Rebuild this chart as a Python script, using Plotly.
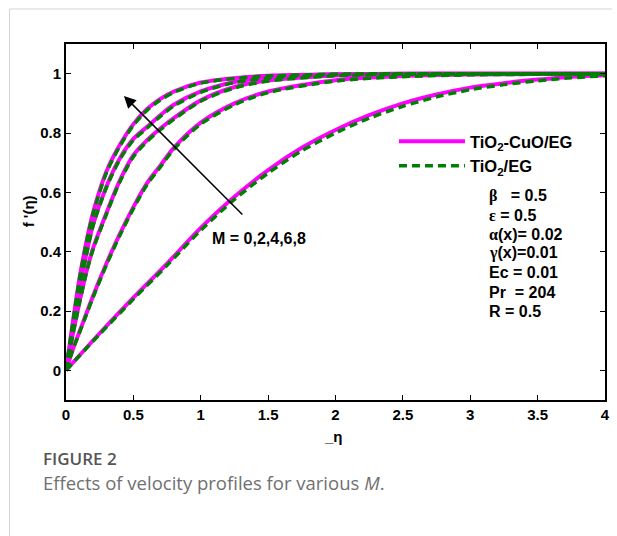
import plotly.graph_objects as go

# eta grid for curves M = 0,2,4,6,8
eta_m0 = [0, 0.25, 0.5, 0.75, 1.0, 1.25, 1.5, 1.75, 2.0, 2.25, 2.5, 2.75, 3.0, 3.25, 3.5, 3.75, 4.0]
hyb_m0 = [0, 0.125, 0.245, 0.36, 0.48, 0.585, 0.675, 0.75, 0.81, 0.86, 0.90, 0.93, 0.953, 0.968, 0.98, 0.99, 0.995]
mono_m0 = [0, 0.122, 0.24, 0.354, 0.472, 0.576, 0.665, 0.74, 0.80, 0.85, 0.89, 0.922, 0.946, 0.963, 0.976, 0.986, 0.993]

eta_hi = [0, 0.05, 0.1, 0.15, 0.2, 0.3, 0.4, 0.5, 0.6, 0.7, 0.8, 1.0, 1.25, 1.5, 2.0, 2.5, 3.0, 3.5, 4.0]
hyb_m2 = [0, 0.07, 0.13, 0.19, 0.25, 0.36, 0.46, 0.55, 0.63, 0.69, 0.75, 0.835, 0.90, 0.94, 0.978, 0.992, 0.997, 0.999, 1.0]
hyb_m4 = [0, 0.12, 0.23, 0.33, 0.41, 0.53, 0.64, 0.725, 0.775, 0.815, 0.85, 0.91, 0.955, 0.977, 0.994, 0.999, 1.0, 1.0, 1.0]
hyb_m6 = [0, 0.14, 0.28, 0.39, 0.49, 0.62, 0.715, 0.78, 0.82, 0.86, 0.895, 0.94, 0.972, 0.987, 0.997, 1.0, 1.0, 1.0, 1.0]
hyb_m8 = [0, 0.16, 0.31, 0.43, 0.53, 0.67, 0.76, 0.83, 0.88, 0.915, 0.94, 0.97, 0.985, 0.993, 0.998, 1.0, 1.0, 1.0, 1.0]
mono_m2 = [0, 0.068, 0.127, 0.186, 0.245, 0.355, 0.455, 0.545, 0.625, 0.685, 0.745, 0.83, 0.895, 0.936, 0.975, 0.99, 0.996, 0.998, 0.999]
mono_m4 = [0, 0.118, 0.227, 0.326, 0.406, 0.526, 0.636, 0.72, 0.771, 0.811, 0.846, 0.907, 0.952, 0.975, 0.993, 0.998, 1.0, 1.0, 1.0]
mono_m6 = [0, 0.138, 0.277, 0.386, 0.486, 0.616, 0.711, 0.776, 0.816, 0.856, 0.891, 0.937, 0.97, 0.985, 0.996, 0.999, 1.0, 1.0, 1.0]
mono_m8 = [0, 0.158, 0.307, 0.426, 0.526, 0.666, 0.756, 0.826, 0.876, 0.911, 0.937, 0.968, 0.984, 0.992, 0.998, 1.0, 1.0, 1.0, 1.0]

hybrid_curves = [(eta_m0, hyb_m0), (eta_hi, hyb_m2), (eta_hi, hyb_m4), (eta_hi, hyb_m6), (eta_hi, hyb_m8)]
mono_curves = [(eta_m0, mono_m0), (eta_hi, mono_m2), (eta_hi, mono_m4), (eta_hi, mono_m6), (eta_hi, mono_m8)]

x_ticks = [0, 0.5, 1, 1.5, 2, 2.5, 3, 3.5, 4]
x_tick_text = ["0", "0.5", "1", "1.5", "2", "2.5", "3", "3.5", "4"]
y_ticks = [0, 0.2, 0.4, 0.6, 0.8, 1]
y_tick_text = ["0", "0.2", "0.4", "0.6", "0.8", "1"]

series_names = ["TiO<sub>2</sub>-CuO/EG", "TiO<sub>2</sub>/EG"]
param_lines = [
    '<span style="font-family:Liberation Serif">β</span>   = 0.5',
    '<span style="font-family:Liberation Serif">ε</span> = 0.5',
    '<span style="font-family:Liberation Serif">α</span>(x)= 0.02',
    '<span style="font-family:Liberation Serif">γ</span>(x)=0.01',
    'Ec = 0.01',
    'Pr  = 204',
    'R = 0.5',
]

FONT = "Liberation Sans"
MAGENTA = "#FF00FF"
GREEN = "#008000"

fig = go.Figure()
for i, (xs, ys) in enumerate(hybrid_curves):
    fig.add_trace(go.Scatter(x=xs, y=ys, mode="lines", name=series_names[0],
                             line=dict(color=MAGENTA, width=4, shape="spline", smoothing=0.8),
                             showlegend=(i == 0), legendrank=1))
for i, (xs, ys) in enumerate(mono_curves):
    fig.add_trace(go.Scatter(x=xs, y=ys, mode="lines", name=series_names[1],
                             line=dict(color=GREEN, width=3.5, dash="8px,5px", shape="spline", smoothing=0.8),
                             showlegend=(i == 0), legendrank=2))

axis_common = dict(showline=True, linecolor="black", linewidth=2, mirror="ticks",
                   ticks="inside", ticklen=5, tickwidth=1, tickcolor="black",
                   showgrid=False, zeroline=False,
                   tickfont=dict(family=FONT, size=15, color="black", weight="bold"))

fig.update_xaxes(range=[0, 4], tickvals=x_ticks, ticktext=x_tick_text, **axis_common)
fig.update_yaxes(range=[-0.1, 1.1], tickvals=y_ticks, ticktext=y_tick_text, **axis_common)

W, H = 617, 536
L, R, T, B = 66, 7, 44, 136
pw, ph = W - L - R, H - T - B

def px(xp):
    return (xp - L) / pw

def py(yp):
    return (H - B - yp) / ph

bold16 = dict(family=FONT, size=16, color="black", weight="bold")

annotations = [
    dict(x=0.43, y=0.925, ax=1.32, ay=0.52, xref="x", yref="y", axref="x", ayref="y",
         text="", showarrow=True, arrowhead=2, arrowsize=1.6, arrowwidth=1.5, arrowcolor="black"),
    dict(x=1.43, y=0.444, xref="x", yref="y", text="M = 0,2,4,6,8", showarrow=False,
         xanchor="center", yanchor="middle", font=bold16),
    # axis titles
    dict(x=px(28), y=py(211), xref="paper", yref="paper", text="f '(η)", textangle=-90,
         xanchor="center", yanchor="middle",
         showarrow=False, font=dict(family=FONT, size=15, color="black", weight="bold")),
    dict(x=px(336), y=py(436), xref="paper", yref="paper", text="_η",
         xanchor="center", yanchor="middle",
         showarrow=False, font=dict(family=FONT, size=15, color="black", weight="bold")),
    # caption
    dict(x=px(41), y=py(458), xref="paper", yref="paper", xanchor="left", yanchor="middle",
         text="FIGURE 2", showarrow=False,
         font=dict(family="Open Sans", size=17, color="#555555", weight=600)),
    dict(x=px(41), y=py(482), xref="paper", yref="paper", xanchor="left", yanchor="middle",
         text="Effects of velocity profiles for various <i>M</i>.", showarrow=False,
         font=dict(family="Open Sans", size=18.5, color="#707070")),
]

# parameter block, one line per annotation
line_y = [195.7, 215, 234, 253, 272.7, 292, 311.7]
for txt, yy in zip(param_lines, line_y):
    annotations.append(dict(x=px(491), y=py(yy), xref="paper", yref="paper", xanchor="left",
                            yanchor="middle", text=txt, showarrow=False, font=bold16))

shapes = [
    dict(type="line", xref="paper", yref="paper", x0=px(9), x1=px(9), y0=py(9), y1=py(H),
         line=dict(color="#d4d4d4", width=1)),
    dict(type="line", xref="paper", yref="paper", x0=px(9), x1=px(W), y0=py(9), y1=py(9),
         line=dict(color="#d4d4d4", width=1)),
]

fig.update_layout(
    width=W, height=H,
    margin=dict(l=L, r=R, t=T, b=B),
    paper_bgcolor="white", plot_bgcolor="white",
    annotations=annotations, shapes=shapes,
    legend=dict(x=px(397), y=py(124), xanchor="left", yanchor="top",
                bgcolor="rgba(0,0,0,0)", borderwidth=0, itemwidth=66,
                tracegroupgap=0,
                font=dict(family=FONT, size=16.5, color="black", weight="bold")),
)

fig.write_html("out.html")
